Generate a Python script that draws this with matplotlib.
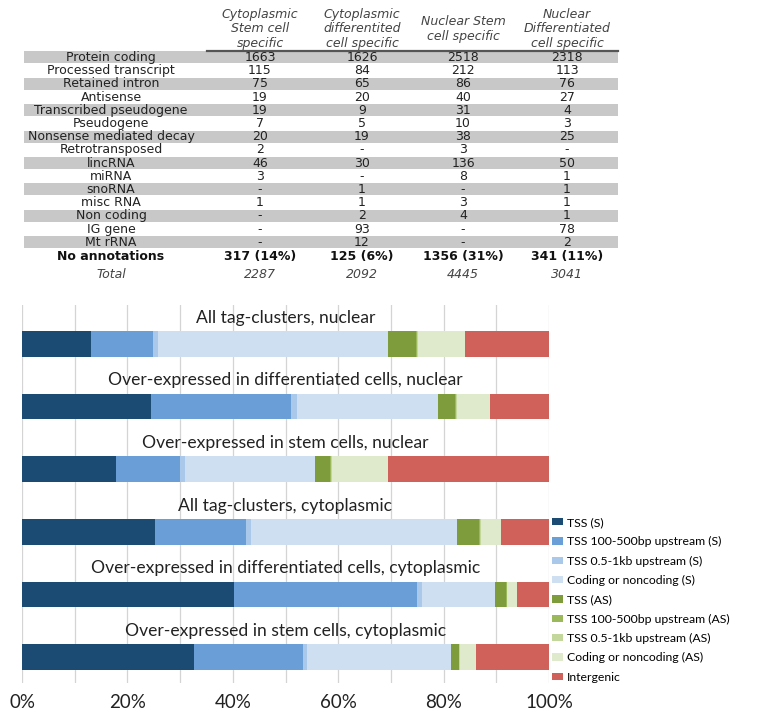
import matplotlib
matplotlib.use("Agg")
import matplotlib.pyplot as plt
from matplotlib.patches import Rectangle
from matplotlib.ticker import MultipleLocator, FuncFormatter

# ---------------- data: table ----------------
col_headers = ["Cytoplasmic\nStem cell\nspecific",
               "Cytoplasmic\ndifferentited\ncell specific",
               "Nuclear Stem\ncell specific",
               "Nuclear\nDifferentiated\ncell specific"]
row_labels = ["Protein coding", "Processed transcript", "Retained intron", "Antisense",
              "Transcribed pseudogene", "Pseudogene", "Nonsense mediated decay",
              "Retrotransposed", "lincRNA", "miRNA", "snoRNA", "misc RNA",
              "Non coding", "IG gene", "Mt rRNA"]
cyto_stem = ["1663", "115", "75", "19", "19", "7", "20", "2", "46", "3", "-", "1", "-", "-", "-"]
cyto_diff = ["1626", "84", "65", "20", "9", "5", "19", "-", "30", "-", "1", "1", "2", "93", "12"]
nuc_stem = ["2518", "212", "86", "40", "31", "10", "38", "3", "136", "8", "-", "3", "4", "-", "-"]
nuc_diff = ["2318", "113", "76", "27", "4", "3", "25", "-", "50", "1", "1", "1", "1", "78", "2"]
no_annot = ["317 (14%)", "125 (6%)", "1356 (31%)", "341 (11%)"]
totals = ["2287", "2092", "4445", "3041"]

# ---------------- data: stacked bars (%) ----------------
bar_titles = ["All tag-clusters, nuclear",
              "Over-expressed in differentiated cells, nuclear",
              "Over-expressed in stem cells, nuclear",
              "All tag-clusters, cytoplasmic",
              "Over-expressed in differentiated cells, cytoplasmic",
              "Over-expressed in stem cells, cytoplasmic"]
series_names = ["TSS (S)", "TSS 100-500bp upstream (S)", "TSS 0.5-1kb upstream (S)",
                "Coding or noncoding (S)", "TSS (AS)", "TSS 100-500bp upstream (AS)",
                "TSS 0.5-1kb upstream (AS)", "Coding or noncoding (AS)", "Intergenic"]
tss_s      = [13.1, 24.4, 17.9, 25.3, 40.2, 32.7]
tss100_s   = [11.8, 26.7, 12.0, 17.2, 34.7, 20.6]
tss05_s    = [0.9, 1.1, 1.0, 1.0, 1.0, 0.8]
coding_s   = [43.7, 26.8, 24.7, 39.1, 13.8, 27.3]
tss_as     = [5.2, 3.2, 2.9, 4.2, 2.2, 1.5]
tss100_as  = [0.3, 0.2, 0.2, 0.2, 0.1, 0.1]
tss05_as   = [0.2, 0.1, 0.1, 0.1, 0.1, 0.1]
coding_as  = [8.9, 6.3, 10.7, 3.8, 1.8, 3.1]
intergenic = [15.9, 11.2, 30.5, 9.1, 6.1, 13.8]

series_values = [tss_s, tss100_s, tss05_s, coding_s, tss_as, tss100_as, tss05_as, coding_as, intergenic]
series_colors = ["#1b4a72", "#699fd6", "#a9c8ea", "#cfdff2", "#7f9c3c",
                 "#9bb85a", "#c3d69b", "#dfe9cc", "#d0615a"]

W, H = 757, 720
fig = plt.figure(figsize=(W / 100, H / 100), dpi=100)

# ---------------- table (pixel coordinate overlay) ----------------
tax = fig.add_axes([0, 0, 1, 1])
tax.set_xlim(0, W)
tax.set_ylim(H, 0)
tax.axis("off")

font = "DejaVu Sans"
fs = 9.0
col_x = [260, 362, 463, 567]
label_x = 111
row_y0 = 57.5
row_h = 13.2
band_left, band_right = 24, 618

for i, lab in enumerate(row_labels):
    y = row_y0 + i * row_h
    if i % 2 == 0:
        tax.add_patch(Rectangle((band_left, y - 6.2), band_right - band_left, 12.2,
                                facecolor="#c8c8c8", edgecolor="none", zorder=0))
    tax.text(label_x, y, lab, ha="center", va="center", fontsize=fs, family=font, color="#222222")
    for cx, col in zip(col_x, [cyto_stem, cyto_diff, nuc_stem, nuc_diff]):
        tax.text(cx, y, col[i], ha="center", va="center", fontsize=fs, family=font, color="#222222")

y_na = row_y0 + len(row_labels) * row_h + 0.8
tax.text(label_x, y_na, "No annotations", ha="center", va="center", fontsize=fs,
         family=font, fontweight="bold", color="#111111")
for cx, v in zip(col_x, no_annot):
    tax.text(cx, y_na, v, ha="center", va="center", fontsize=fs, family=font,
             fontweight="bold", color="#111111")
y_tot = y_na + 18
tax.text(label_x, y_tot, "Total", ha="center", va="center", fontsize=fs, family=font,
         style="italic", color="#444444")
for cx, v in zip(col_x, totals):
    tax.text(cx, y_tot, v, ha="center", va="center", fontsize=fs, family=font,
             style="italic", color="#444444")

for cx, hdr in zip(col_x, col_headers):
    tax.text(cx, 29, hdr, ha="center", va="center", fontsize=fs, family=font,
             style="italic", color="#444444", linespacing=1.12, multialignment="center")
tax.plot([207, band_right], [50.5, 50.5], color="#555555", lw=1.6)

# ---------------- stacked bar chart ----------------
ax = fig.add_axes([22 / W, 1 - 683 / H, (549 - 22) / W, (683 - 305) / H])
ypos = list(range(len(bar_titles)))
left = [0.0] * len(bar_titles)
handles = []
for name, vals, colr in zip(series_names, series_values, series_colors):
    b = ax.barh(ypos, vals, left=left, height=0.41, color=colr, edgecolor="none",
                label=name, zorder=3)
    handles.append(b)
    left = [l + v for l, v in zip(left, vals)]

tfont = "Lato"
for i, t in enumerate(bar_titles):
    ax.text(50, i - 0.42, t, ha="center", va="center", fontsize=12.6, family=tfont,
            color="#222222", zorder=4)

ax.set_xlim(0, 100)
ax.set_ylim(5.415, -0.623)
ax.xaxis.set_major_locator(MultipleLocator(20))
ax.xaxis.set_minor_locator(MultipleLocator(10))
ax.xaxis.set_major_formatter(FuncFormatter(lambda v, p: f"{int(round(v))}%"))
ax.grid(True, axis="x", which="both", color="#d4d4d4", lw=0.9, zorder=0)
ax.set_yticks([])
for s in ["top", "right", "left", "bottom"]:
    ax.spines[s].set_visible(False)
ax.tick_params(axis="x", which="both", length=0, pad=8, labelsize=13.5)
for lbl in ax.get_xticklabels():
    lbl.set_family(tfont)
    lbl.set_color("#222222")

fig.legend(handles=handles, labels=series_names, loc="upper left",
           bbox_to_anchor=(552 / W, 1 - 517 / H), frameon=False,
           prop={"family": tfont, "size": 8.8}, handlelength=0.9, handleheight=0.55,
           handletextpad=0.35, labelspacing=0.68, borderpad=0, borderaxespad=0)

fig.savefig("out.png", dpi=100)
